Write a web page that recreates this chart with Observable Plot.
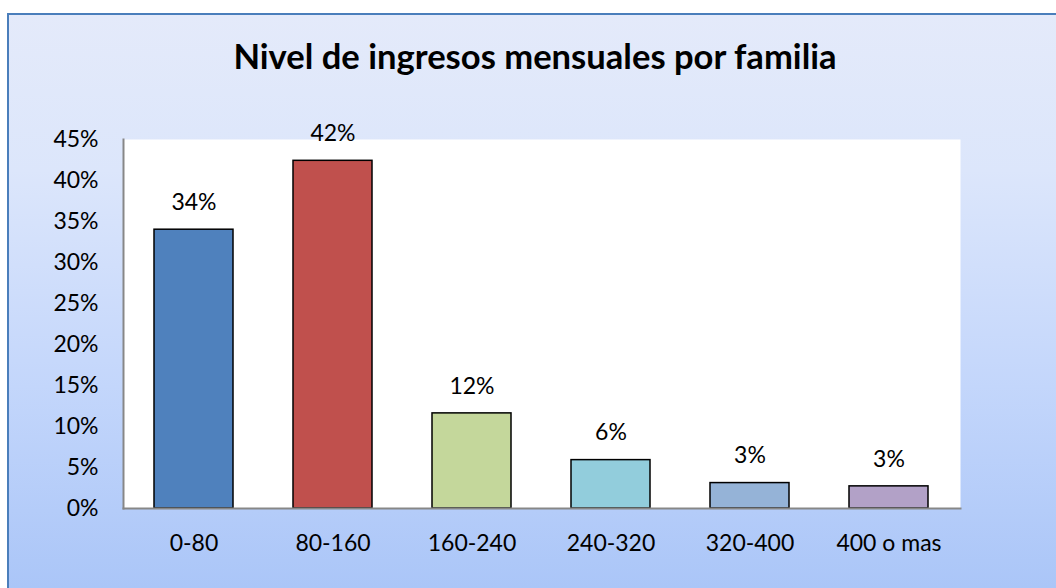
<!DOCTYPE html>
<html><head><meta charset="utf-8">
<script src="https://cdn.jsdelivr.net/npm/d3@7"></script>
<script src="https://cdn.jsdelivr.net/npm/@observablehq/plot@0.6"></script>
<style>
html,body{margin:0;padding:0;background:#fff;}
#wrap{position:relative;width:1056px;height:588px;overflow:hidden;font-family:Lato,"Open Sans",sans-serif;}
#panel{position:absolute;left:7px;top:13px;width:1100px;height:620px;border:2px solid #4a7ebb;
  background:linear-gradient(to bottom,#e4eafa 0%,#dce6fb 25%,#c3d6fb 60%,#a5c2f7 100%);}
#title{position:absolute;left:0;top:0;}
#chart{position:absolute;left:0;top:0;}
</style></head>
<body>
<div id="wrap"><div id="panel"></div><svg id="title" width="1056" height="100"></svg><div id="chart"></div></div>
<script>
const titleText = "Nivel de ingresos mensuales por familia";
const categories = ["0-80","80-160","160-240","240-320","320-400","400 o mas"];
const values = [0.340,0.424,0.116,0.059,0.031,0.027];
const colors = ["#4f81bd","#c0504d","#c4d79b","#92cddc","#95b3d7","#b2a1c7"];
const yTicks = [0,0.05,0.10,0.15,0.20,0.25,0.30,0.35,0.40,0.45];

const data = categories.map((c,i)=>({cat:c, v:values[i]}));
const pct = d => Math.round(d*100) + "%";

// title sized to match reference width
const ctx = document.createElement("canvas").getContext("2d");
ctx.font = "bold 100px Lato";
const tw = ctx.measureText(titleText).width;
const tsize = 100 * 604 / tw;
const t = document.createElementNS("http://www.w3.org/2000/svg","text");
t.setAttribute("x", 535); t.setAttribute("y", 69);
t.setAttribute("text-anchor","middle");
t.setAttribute("font-family","Lato, 'Open Sans', sans-serif");
t.setAttribute("font-weight","bold");
t.setAttribute("font-size", tsize.toFixed(2));
t.setAttribute("fill","#000");
t.textContent = titleText;
document.getElementById("title").appendChild(t);

const fs = 23;
const chart = Plot.plot({
  width: 1056, height: 588,
  marginLeft: 123, marginRight: 96, marginTop: 139, marginBottom: 80,
  style: {background: "transparent", fontFamily: "Lato, 'Open Sans', sans-serif", fontSize: fs + "px", color: "#000"},
  x: {domain: categories, paddingInner: 0.43, paddingOuter: 0.215, label: null},
  y: {domain: [0, 0.45], label: null},
  color: {domain: categories, range: colors},
  marks: [
    Plot.frame({fill: "white", stroke: null}),
    Plot.barY(data, {x: "cat", y: "v", fill: "cat", stroke: "black", strokeWidth: 1.5}),
    Plot.frame({anchor: "left", stroke: "#878787", strokeWidth: 2}),
    Plot.frame({anchor: "bottom", stroke: "#878787", strokeWidth: 2}),
    Plot.text(data, {x: "cat", y: "v", text: d => pct(d.v), dy: -27, fontSize: fs, fill: "#000"}),
    Plot.axisY({ticks: yTicks, tickFormat: pct, tickSize: 0, tickPadding: 25, label: null, fontSize: fs}),
    Plot.axisX({tickSize: 0, tickPadding: 26, label: null, fontSize: fs})
  ]
});
document.getElementById("chart").appendChild(chart);
</script>
</body></html>
